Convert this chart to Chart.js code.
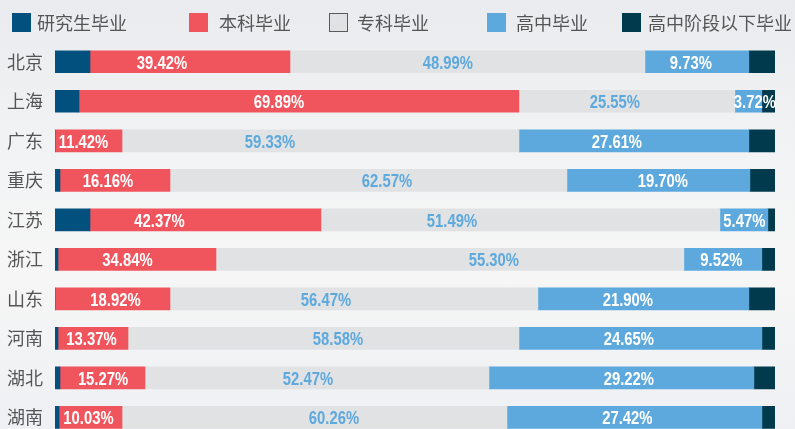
<!DOCTYPE html>
<html>
<head>
<meta charset="utf-8">
<script src="https://cdn.jsdelivr.net/npm/chart.js@4.4.1/dist/chart.umd.min.js"></script>
<style>
	html, body { margin: 0; padding: 0; overflow: hidden; }
	body {
		width: 795px;
		height: 429px;
		background: linear-gradient(#e9ebee 0%, #f3f4f5 40%, #f6f6f6 65%, #eef0f3 100%);
	}
	canvas { display: block; }
</style>
</head>
<body>
<canvas id="eduChart" width="795" height="460"></canvas>
<script>
(() => {
	'use strict'

	// Categories and series
	const provinces = ['北京', '上海', '广东', '重庆', '江苏', '浙江', '山东', '河南', '湖北', '湖南'];
	const seriesNames = ['研究生毕业', '本科毕业', '专科毕业', '高中毕业', '高中阶段以下毕业'];

	// Segment lengths as drawn in the picture (share of the bar, %)
	const graduate   = [4.86, 3.33, 0, 0.69, 4.86, 0.42, 0, 0.42, 0.69, 0.56];
	const bachelor   = [27.78, 61.11, 9.31, 15.28, 32.08, 21.94, 15.97, 9.72, 11.81, 8.75];
	const college    = [49.31, 30.00, 55.14, 55.14, 55.42, 65.00, 51.11, 54.31, 47.78, 53.47];
	const highSchool = [14.44, 3.75, 31.94, 25.42, 6.67, 10.83, 29.31, 33.75, 36.81, 35.42];
	const belowHigh  = [3.61, 1.81, 3.61, 3.47, 0.97, 1.81, 3.61, 1.81, 2.92, 1.81];

	// Percentages printed on the bars
	const bachelorText   = [39.42, 69.89, 11.42, 16.16, 42.37, 34.84, 18.92, 13.37, 15.27, 10.03];
	const collegeText    = [48.99, 25.55, 59.33, 62.57, 51.49, 55.30, 56.47, 58.58, 52.47, 60.26];
	const highSchoolText = [9.73, 3.72, 27.61, 19.70, 5.47, 9.52, 21.90, 24.65, 29.22, 27.42];

	// Where each printed percentage sits along the axis (%)
	const bachelorAt   = [14.86, 31.11, 3.96, 7.36, 14.51, 10.07, 8.40, 5.07, 6.67, 4.65];
	const collegeAt    = [54.58, 77.78, 29.86, 46.11, 55.14, 60.97, 37.64, 39.31, 35.14, 38.75];
	const highSchoolAt = [88.33, 97.22, 78.06, 84.44, 95.76, 92.57, 79.58, 79.72, 79.72, 79.51];

	const colors = ['#01507e', '#f0555d', '#e1e2e4', '#5da9de', '#003a4c'];

	// Draws the percentages in a narrow bold face
	const valueLabels = {
		id: 'valueLabels',
		afterDatasetsDraw(chart) {
			const ctx = chart.ctx;
			const xScale = chart.scales.x;
			const groups = [
				[1, bachelorText, bachelorAt, '#ffffff'],
				[2, collegeText, collegeAt, '#5da9de'],
				[3, highSchoolText, highSchoolAt, '#ffffff']
			];
			ctx.save();
			ctx.font = 'bold 19px "Liberation Sans", Arial, sans-serif';
			ctx.textAlign = 'center';
			ctx.textBaseline = 'alphabetic';
			groups.forEach(([dsIndex, texts, places, color]) => {
				const meta = chart.getDatasetMeta(dsIndex);
				ctx.fillStyle = color;
				texts.forEach((v, i) => {
					const x = xScale.getPixelForValue(places[i]);
					const y = meta.data[i].y;
					ctx.save();
					ctx.translate(x, y + 7);
					ctx.scale(0.78, 1);
					ctx.fillText(v.toFixed(2) + '%', 0, 0);
					ctx.restore();
				});
			});
			ctx.restore();
		}
	};

	// Legend row across the top
	const topLegend = {
		id: 'topLegend',
		afterDraw(chart, args, opts) {
			const ctx = chart.ctx;
			ctx.save();
			ctx.font = '18px "Noto Sans CJK SC", sans-serif';
			ctx.textBaseline = 'middle';
			ctx.textAlign = 'left';
			chart.data.datasets.forEach((ds, k) => {
				const [bx, tx] = opts.spots[k];
				ctx.fillStyle = ds.backgroundColor;
				ctx.fillRect(bx, 13, 19, 19);
				if (k === 2) {
					ctx.strokeStyle = '#5a5a5a';
					ctx.lineWidth = 1;
					ctx.strokeRect(bx + 0.5, 13.5, 18, 18);
				}
				ctx.fillStyle = '#555555';
				ctx.fillText(ds.label, tx, 23);
			});
			ctx.restore();
		}
	};

	const seriesData = [graduate, bachelor, college, highSchool, belowHigh];

	const dataEdu = {
		labels: provinces,
		datasets: seriesNames.map((name, k) => ({
			label: name,
			data: seriesData[k],
			backgroundColor: colors[k],
			borderWidth: 0,
			barThickness: 22
		}))
	};

	const configEdu = {
		type: 'bar',
		data: dataEdu,
		plugins: [valueLabels, topLegend],
		options: {
			indexAxis: 'y',
			responsive: false,
			animation: false,
			layout: {
				padding: { top: 42, bottom: 3, left: 0, right: 20 }
			},
			plugins: {
				legend: { display: false },
				tooltip: { enabled: false },
				title: { display: false },
				topLegend: {
					spots: [[12, 37], [189, 219], [329, 357], [487, 516], [622, 648]]
				}
			},
			scales: {
				x: {
					stacked: true,
					min: 0,
					max: 100.02,
					display: false
				},
				y: {
					stacked: true,
					grid: { display: false, drawTicks: false },
					border: { display: false },
					ticks: {
						color: '#555555',
						padding: 12,
						font: { family: '"Noto Sans CJK SC", sans-serif', size: 18 }
					},
					afterFit(scale) {
						scale.width = 55;
					}
				}
			}
		}
	};

	new Chart(document.getElementById('eduChart'), configEdu);
})()
</script>
</body>
</html>
